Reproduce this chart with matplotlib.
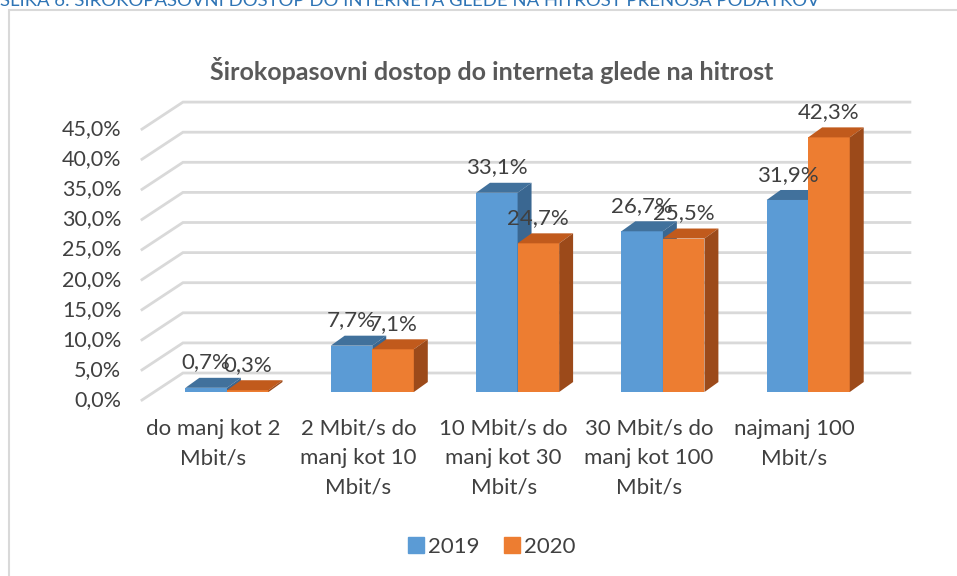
import matplotlib
matplotlib.use("Agg")
import matplotlib.pyplot as plt
from matplotlib.patches import Polygon, Rectangle
import numpy as np

plt.rcParams['font.family'] = ['Lato', 'DejaVu Sans']

# data
categories = ["do manj kot 2\nMbit/s", "2 Mbit/s do\nmanj kot 10\nMbit/s",
              "10 Mbit/s do\nmanj kot 30\nMbit/s", "30 Mbit/s do\nmanj kot 100\nMbit/s",
              "najmanj 100\nMbit/s"]
series_names = ["2019", "2020"]
values_2019 = [0.7, 7.7, 33.1, 26.7, 31.9]
values_2020 = [0.3, 7.1, 24.7, 25.5, 42.3]
y_ticks = [0, 5, 10, 15, 20, 25, 30, 35, 40, 45]

title = "Širokopasovni dostop do interneta glede na hitrost"
caption = "SLIKA 6: ŠIROKOPASOVNI DOSTOP DO INTERNETA GLEDE NA HITROST PRENOSA PODATKOV"

# colours: front, top, side
blue = ["#5b9bd5", "#41719c", "#3a6791"]
orange = ["#ed7d31", "#c15a1c", "#9c4a1a"]
grid_col = "#d9d9d9"
text_col = "#404040"

# 3d look (in data units)
W = 0.286      # bar width
DX = 0.096     # depth offset x
DY = 1.66      # depth offset y
wall_x0 = -0.303
wall_x1 = 4.70
wall_dy = 3.16
floor_x0 = -0.585
floor_dy = -1.33

fig = plt.figure(figsize=(9.57, 5.76), dpi=100)
ax = fig.add_axes([0, 0, 1, 1])
ax.set_xlim(-1.562, 5.024)
ax.set_ylim(-30.56, 65.12)
ax.axis("off")

# chart frame
fig.patches.append(Rectangle((9 / 957, -0.1), 1.2, 1 - 10 / 576 + 0.1,
                             transform=fig.transFigure, fill=False,
                             edgecolor="#d9d9d9", linewidth=1.5))

# caption cut at the top
fig.text(0.0, 1 - 6 / 576, caption, color="#2e74b5", fontsize=13.3,
         ha="left", va="baseline")

# gridlines: back wall + side diagonal
for v in y_ticks:
    ax.plot([floor_x0, wall_x0, wall_x1], [v + floor_dy, v + wall_dy, v + wall_dy],
            color=grid_col, linewidth=2, zorder=1, solid_joinstyle="miter")
    ax.text(-0.727, v + floor_dy, f"{v:.1f}%".replace(".", ","), ha="right",
            va="center", fontsize=15.5, color=text_col)


def draw_bar(x0, v, cols):
    ax.bar(x0, v, width=W, align="edge", color=cols[0], linewidth=0, zorder=3)
    top = [(x0, v), (x0 + W, v), (x0 + W + DX, v + DY), (x0 + DX, v + DY)]
    side = [(x0 + W, 0), (x0 + W + DX, DY), (x0 + W + DX, v + DY), (x0 + W, v)]
    ax.add_patch(Polygon(top, closed=True, facecolor=cols[1], edgecolor="none", zorder=3))
    ax.add_patch(Polygon(side, closed=True, facecolor=cols[2], edgecolor="none", zorder=3))


for i in range(len(categories)):
    draw_bar(i - W, values_2019[i], blue)
    draw_bar(i, values_2020[i], orange)

for i in range(len(categories)):
    for xc, v in [(i - W / 2, values_2019[i]), (i + W / 2, values_2020[i])]:
        ax.annotate(f"{v:.1f}%".replace(".", ","), (xc, v + DY), xytext=(0, 11),
                    textcoords="offset points", ha="center", va="center",
                    fontsize=16, color=text_col, zorder=5)
    ax.text(i - 0.096, -4.4, categories[i], ha="center", va="top", fontsize=16,
            color=text_col, linespacing=1.6)

ax.text(1.82, 53.4, title, ha="center", va="center", fontsize=18,
        fontweight="bold", color="#595959")

handles = [Rectangle((0, 0), 1, 1, color=blue[0]), Rectangle((0, 0), 1, 1, color=orange[0])]
fig.legend(handles, series_names, loc="center", bbox_to_anchor=(492 / 957, 1 - 547 / 576),
           ncol=2, frameon=False, fontsize=16, handlelength=0.7, handleheight=0.7,
           handletextpad=0.2, columnspacing=1.1, labelcolor=text_col)

fig.savefig("out.png", dpi=100)
